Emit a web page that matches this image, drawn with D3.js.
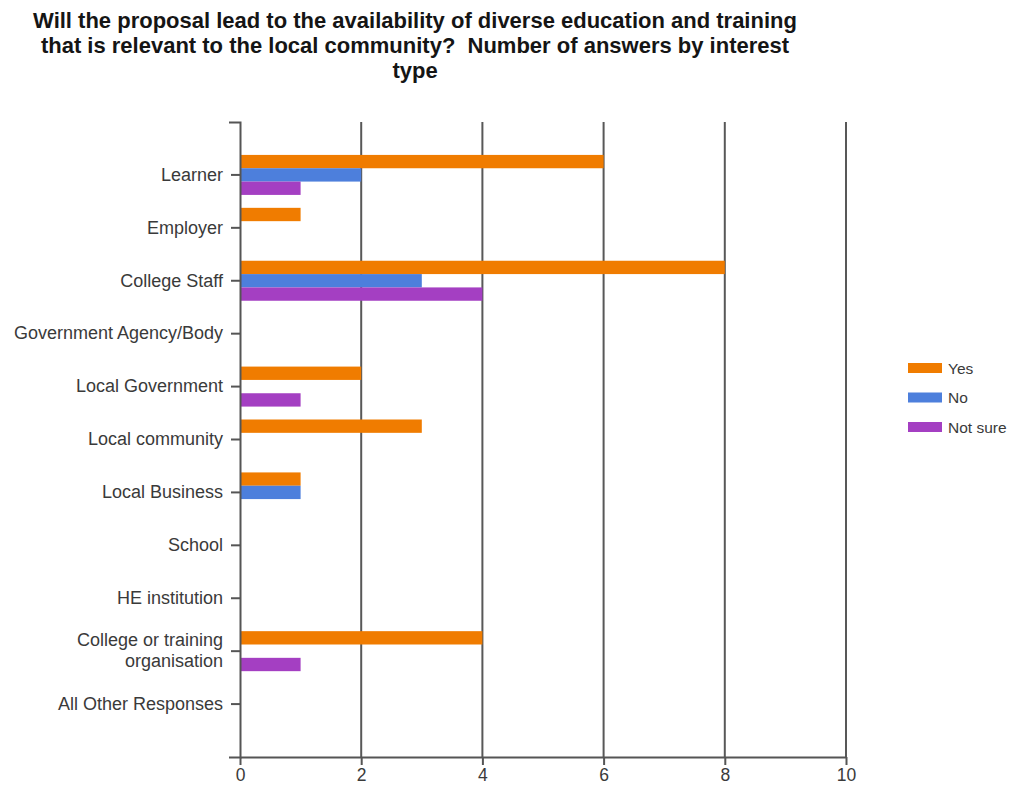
<!DOCTYPE html>
<html>
<head>
<meta charset="utf-8">
<script src="https://cdn.jsdelivr.net/npm/d3@7"></script>
<style>
  html, body { margin: 0; padding: 0; background: #fff; }
  svg { display: block; }
  text { font-family: "Liberation Sans", Arial, sans-serif; }
</style>
</head>
<body>
<svg id="chart" width="1010" height="787"></svg>
<script>
// Interest types (y axis), top to bottom
const categories = [
  "Learner", "Employer", "College Staff", "Government Agency/Body",
  "Local Government", "Local community", "Local Business", "School",
  "HE institution", "College or training organisation", "All Other Responses"
];
const seriesNames = ["Yes", "No", "Not sure"];
const yesValues     = [6, 1, 8, 0, 2, 3, 1, 0, 0, 4, 0];
const noValues      = [2, 0, 3, 0, 0, 0, 1, 0, 0, 0, 0];
const notSureValues = [1, 0, 4, 0, 1, 0, 0, 0, 0, 1, 0];
const xTicks = [0, 2, 4, 6, 8, 10];
const titleLines = [
  "Will the proposal lead to the availability of diverse education and training",
  "that is relevant to the local community?  Number of answers by interest",
  "type"
];
const colors = ["#f07c00", "#4d7fdc", "#a43fc2"];

const seriesValues = [yesValues, noValues, notSureValues];

const svg = d3.select("#chart");
const plot = { left: 240, right: 846, top: 122, bottom: 757 };

const x = d3.scaleLinear().domain([0, 10]).range([plot.left, plot.right]);
const y = d3.scaleBand().domain(categories)
  .range([plot.top, plot.bottom]).paddingInner(0).paddingOuter(0.5);
const groupH = 40;
const sub = d3.scaleBand().domain(seriesNames).range([-groupH / 2, groupH / 2]);

// Title
svg.append("g").selectAll("text").data(titleLines).join("text")
  .attr("x", 415).attr("y", (d, i) => 28 + i * 25)
  .attr("text-anchor", "middle")
  .style("white-space", "pre")
  .attr("font-size", 22).attr("font-weight", "bold").attr("fill", "#151515")
  .text(d => d);

// Vertical grid lines
svg.append("g").selectAll("line").data(xTicks.filter(t => t > 0)).join("line")
  .attr("x1", d => x(d)).attr("x2", d => x(d))
  .attr("y1", plot.top).attr("y2", plot.bottom)
  .attr("stroke", "#585858").attr("stroke-width", 2);

// Bars
const groups = svg.append("g").selectAll("g").data(seriesNames).join("g")
  .attr("fill", (d, i) => colors[i]);
groups.selectAll("rect")
  .data((s, si) => categories.map((c, ci) => ({ c, s, v: seriesValues[si][ci] })).filter(d => d.v > 0))
  .join("rect")
  .attr("x", x(0))
  .attr("y", d => y(d.c) + y.bandwidth() / 2 + sub(d.s))
  .attr("width", d => x(d.v) - x(0))
  .attr("height", sub.bandwidth());

// Y axis
const yAxis = svg.append("g")
  .attr("transform", `translate(${plot.left},0)`)
  .call(d3.axisLeft(y).tickSize(9).tickSizeOuter(11).tickPadding(8));
yAxis.select(".domain").attr("stroke", "#555").attr("stroke-width", 2);
yAxis.selectAll(".tick line").attr("stroke", "#555").attr("stroke-width", 2);
yAxis.selectAll(".tick text")
  .attr("font-size", 18).attr("fill", "#3a3a3a")
  .attr("font-family", "'Liberation Sans', Arial, sans-serif")
  .each(function(d) {
    if (d === "College or training organisation") {
      const t = d3.select(this).text(null);
      t.append("tspan").attr("x", -17).attr("dy", "-0.3em").text("College or training");
      t.append("tspan").attr("x", -17).attr("dy", "1.2em").text("organisation");
    }
  });

// X axis
const xAxis = svg.append("g")
  .attr("transform", `translate(0,${plot.bottom})`)
  .call(d3.axisBottom(x).tickValues(xTicks).tickSize(8).tickSizeOuter(0).tickPadding(4));
xAxis.select(".domain").attr("stroke", "#555").attr("stroke-width", 2);
xAxis.selectAll(".tick line").attr("stroke", "#555").attr("stroke-width", 2);
xAxis.selectAll(".tick text")
  .attr("font-size", 17.5).attr("fill", "#3a3a3a")
  .attr("font-family", "'Liberation Sans', Arial, sans-serif");

// Legend
const legend = svg.append("g").selectAll("g").data(seriesNames).join("g")
  .attr("transform", (d, i) => `translate(908,${368 + i * 29.5})`);
legend.append("rect")
  .attr("x", 0).attr("y", -5).attr("width", 34).attr("height", 10)
  .attr("fill", (d, i) => colors[i]);
legend.append("text")
  .attr("x", 40).attr("y", 5.5)
  .attr("font-size", 15.5).attr("fill", "#3a3a3a")
  .text(d => d);
</script>
</body>
</html>
